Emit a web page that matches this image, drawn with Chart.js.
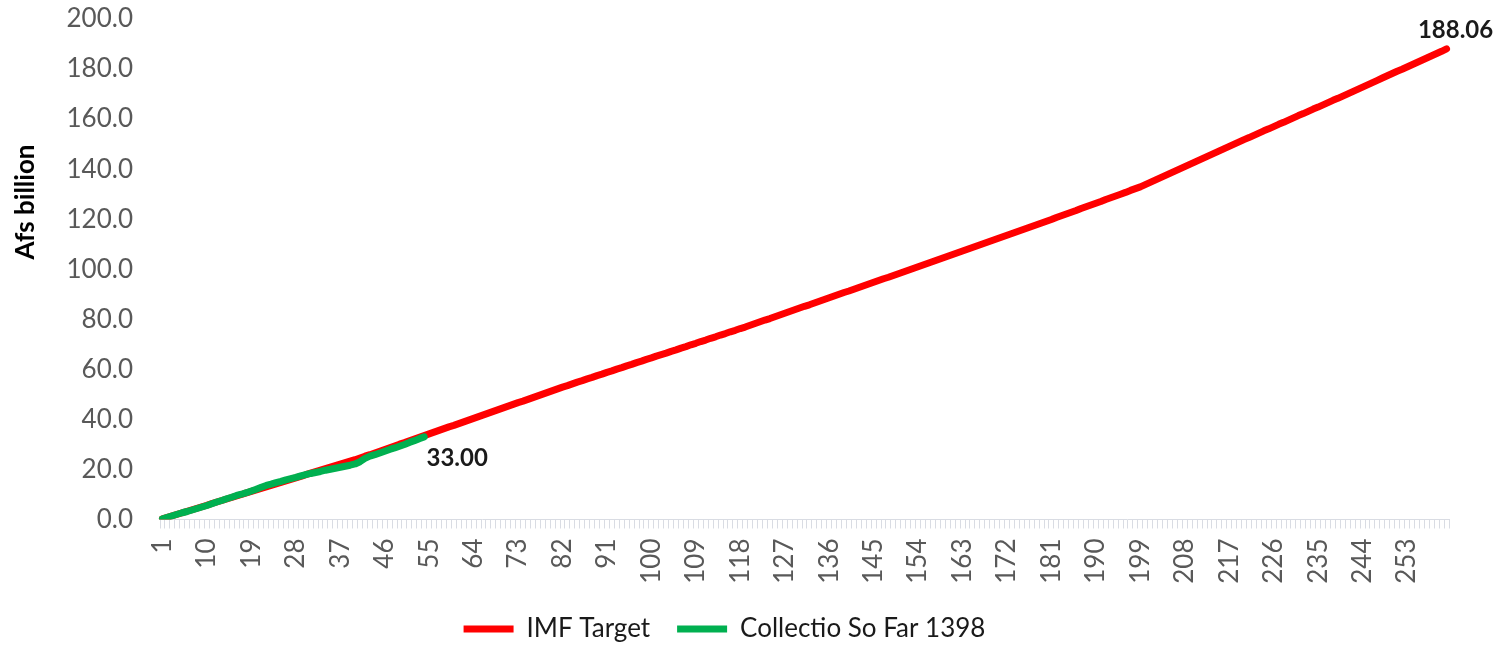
<!DOCTYPE html>
<html>
<head>
    <title>IMF Target vs Collection</title>
    <style>
        html, body {
            margin: 0;
            padding: 0;
            background: #ffffff;
        }
        .wrap {
            width: 1499px;
            height: 647px;
        }
    </style>
    <script src="https://cdn.jsdelivr.net/npm/chart.js"></script>
</head>
<body>
    <div class="wrap">
        <canvas id="revenueChart" width="1499" height="647"></canvas>
    </div>

    <script>
        // cumulative IMF target, Afs billion, one value per working day
        const imfTarget = [
            0.3, 0.9, 1.5, 2.1, 2.7, 3.3, 3.9, 4.5, 5.1, 5.7,
            6.4, 7.0, 7.6, 8.2, 8.8, 9.4, 10.0, 10.6, 11.2, 11.8,
            12.4, 13.0, 13.6, 14.2, 14.8, 15.4, 16.0, 16.6, 17.2, 17.9,
            18.5, 19.1, 19.7, 20.3, 20.9, 21.5, 22.1, 22.7, 23.3, 23.9,
            24.6, 25.3, 25.9, 26.6, 27.3, 28.0, 28.7, 29.4, 30.1, 30.7,
            31.4, 32.1, 32.8, 33.5, 34.2, 34.9, 35.6, 36.3, 37.0, 37.6,
            38.3, 39.0, 39.7, 40.4, 41.1, 41.8, 42.5, 43.2, 43.9, 44.6,
            45.3, 46.0, 46.7, 47.3, 48.0, 48.7, 49.4, 50.1, 50.8, 51.5,
            52.2, 52.9, 53.5, 54.2, 54.9, 55.5, 56.2, 56.8, 57.5, 58.1,
            58.8, 59.4, 60.1, 60.7, 61.4, 62.0, 62.7, 63.3, 64.0, 64.6,
            65.3, 65.9, 66.5, 67.2, 67.8, 68.5, 69.1, 69.8, 70.4, 71.1,
            71.7, 72.4, 73.0, 73.7, 74.3, 75.0, 75.6, 76.3, 76.9, 77.6,
            78.3, 79.0, 79.7, 80.3, 81.0, 81.7, 82.4, 83.1, 83.8, 84.5,
            85.2, 85.8, 86.5, 87.2, 87.9, 88.6, 89.3, 90.0, 90.7, 91.3,
            92.0, 92.7, 93.4, 94.1, 94.8, 95.5, 96.2, 96.8, 97.5, 98.2,
            98.9, 99.6, 100.3, 101.0, 101.7, 102.4, 103.1, 103.8, 104.5, 105.2,
            105.9, 106.6, 107.3, 108.0, 108.7, 109.4, 110.1, 110.8, 111.5, 112.2,
            112.9, 113.6, 114.3, 115.0, 115.7, 116.4, 117.1, 117.8, 118.5, 119.2,
            119.9, 120.7, 121.4, 122.1, 122.8, 123.5, 124.3, 125.0, 125.7, 126.4,
            127.1, 127.9, 128.6, 129.3, 130.0, 130.7, 131.5, 132.2, 132.9, 133.8,
            134.7, 135.6, 136.5, 137.4, 138.3, 139.2, 140.1, 141.0, 141.9, 142.8,
            143.7, 144.6, 145.5, 146.4, 147.3, 148.2, 149.1, 150.0, 150.9, 151.8,
            152.6, 153.5, 154.4, 155.3, 156.1, 157.0, 157.9, 158.7, 159.6, 160.5,
            161.4, 162.2, 163.1, 164.0, 164.8, 165.7, 166.6, 167.5, 168.3, 169.2,
            170.1, 171.0, 171.9, 172.8, 173.7, 174.6, 175.5, 176.4, 177.3, 178.2,
            179.1, 179.9, 180.8, 181.7, 182.6, 183.5, 184.4, 185.3, 186.2, 187.1,
            188.06
        ];

        // collection so far in 1398
        const collected = [
            0.3, 0.9, 1.5, 2.1, 2.7, 3.2, 3.8, 4.4, 5.0, 5.6,
            6.3, 7.0, 7.6, 8.3, 8.9, 9.6, 10.1, 10.7, 11.4, 12.1,
            12.9, 13.6, 14.1, 14.7, 15.2, 15.8, 16.3, 16.8, 17.4, 17.9,
            18.4, 18.8, 19.2, 19.7, 20.1, 20.5, 20.9, 21.3, 21.7, 22.2,
            23.1, 24.4, 25.3, 25.9, 26.6, 27.3, 28.0, 28.6, 29.3, 30.0,
            30.8, 31.5, 32.3, 33.0
        ];

        // day numbers on the x axis, one label every 9 days
        const days = imfTarget.map((v, i) => String(i + 1));
        const labelStep = 9;

        const seriesNames = ['IMF Target', 'Collectio So Far 1398'];
        const seriesColors = ['#ff0000', '#00b050'];

        const FONT = 'Lato, "Open Sans", sans-serif';

        // y axis title sits a bit above the middle, like the original
        const yTitle = {
            id: 'yTitle',
            afterDraw(chart) {
                const ctx = chart.ctx;
                ctx.save();
                ctx.translate(26, 202);
                ctx.rotate(-Math.PI / 2);
                ctx.font = 'bold 26px ' + FONT;
                ctx.fillStyle = '#000000';
                ctx.textAlign = 'center';
                ctx.textBaseline = 'middle';
                ctx.fillText('Afs billion', 0, 0);
                ctx.restore();
            }
        };

        // value labels on the last point of each line
        const endLabels = {
            id: 'endLabels',
            afterDatasetsDraw(chart) {
                const ctx = chart.ctx;
                const offsets = [[9, -19], [33, 21]];
                ctx.save();
                ctx.font = 'bold 24px ' + FONT;
                ctx.fillStyle = '#1a1a1a';
                ctx.textAlign = 'center';
                ctx.textBaseline = 'middle';
                chart.data.datasets.forEach((ds, i) => {
                    const pts = chart.getDatasetMeta(i).data;
                    const last = pts[pts.length - 1];
                    const val = ds.data[ds.data.length - 1];
                    ctx.fillText(val.toFixed(2), last.x + offsets[i][0], last.y + offsets[i][1]);
                });
                ctx.restore();
            }
        };

        const ctx = document.getElementById('revenueChart').getContext('2d');
        new Chart(ctx, {
            type: 'line',
            data: {
                labels: days,
                datasets: [
                    {
                        label: seriesNames[0],
                        data: imfTarget,
                        borderColor: seriesColors[0],
                        backgroundColor: seriesColors[0],
                        borderWidth: 7,
                        borderCapStyle: 'round',
                        borderJoinStyle: 'round',
                        pointRadius: 0,
                        tension: 0,
                        order: 2
                    },
                    {
                        label: seriesNames[1],
                        data: collected,
                        borderColor: seriesColors[1],
                        backgroundColor: seriesColors[1],
                        borderWidth: 7,
                        borderCapStyle: 'round',
                        borderJoinStyle: 'round',
                        pointRadius: 0,
                        tension: 0,
                        order: 1
                    }
                ]
            },
            options: {
                responsive: false,
                animation: false,
                layout: {
                    padding: { left: 0, right: 50, top: 19, bottom: -5 }
                },
                plugins: {
                    legend: {
                        position: 'bottom',
                        labels: {
                            usePointStyle: true,
                            pointStyle: 'line',
                            pointStyleWidth: 50,
                            padding: 27,
                            color: '#1a1a1a',
                            font: { family: FONT, size: 26 },
                            sort: (a, b) => a.datasetIndex - b.datasetIndex
                        }
                    },
                    tooltip: { enabled: false }
                },
                scales: {
                    x: {
                        offset: true,
                        afterFit(scale) { scale.height = 69.5; },
                        grid: {
                            offset: true,
                            drawOnChartArea: false,
                            drawTicks: true,
                            tickLength: 9,
                            color: '#d9dce3'
                        },
                        border: { color: '#d9dce3', width: 1 },
                        ticks: {
                            autoSkip: false,
                            minRotation: 90,
                            maxRotation: 90,
                            padding: 10,
                            color: '#595959',
                            font: { family: FONT, size: 26 },
                            callback: function (val, i) {
                                return i % labelStep === 0 ? this.getLabelForValue(val) : '';
                            }
                        }
                    },
                    y: {
                        min: 0,
                        max: 200,
                        afterFit(scale) { scale.width = 160; },
                        grid: { display: false, drawTicks: true, tickLength: 24 },
                        border: { display: false },
                        ticks: {
                            stepSize: 20,
                            padding: 3,
                            color: '#595959',
                            font: { family: FONT, size: 26 },
                            callback: v => v.toFixed(1)
                        }
                    }
                }
            },
            plugins: [yTitle, endLabels]
        });
    </script>
</body>
</html>
